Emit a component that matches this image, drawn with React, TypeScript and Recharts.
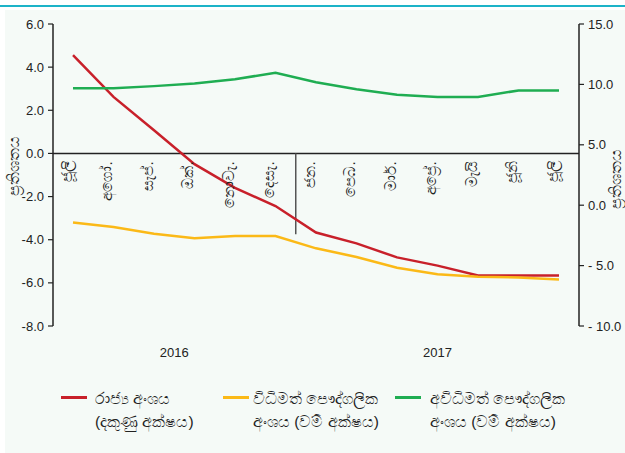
import React from 'react';
import { LineChart, Line, XAxis, YAxis, ReferenceLine } from 'recharts';

// ---- data ----
const months = ['ජූලි', 'අගෝ.', 'සැප්.', 'ඔක්.', 'නොවැ.', 'දෙසැ.', 'ජන.', 'පෙබ.', 'මාර්.', 'අප්‍රේ.', 'මැයි', 'ජූනි', 'ජූලි'];
const monthYears = ['2016', '2016', '2016', '2016', '2016', '2016', '2017', '2017', '2017', '2017', '2017', '2017', '2017'];
// state sector (right axis)
const stateSector = [12.43, 8.97, 6.2, 3.4, 1.43, -0.07, -2.26, -3.16, -4.32, -5.0, -5.82, -5.82, -5.82];
// formal private sector (left axis)
const formalPrivate = [-3.2, -3.41, -3.72, -3.93, -3.83, -3.83, -4.4, -4.8, -5.3, -5.6, -5.72, -5.75, -5.85];
// informal private sector (left axis)
const informalPrivate = [3.02, 3.02, 3.12, 3.24, 3.44, 3.74, 3.3, 2.98, 2.72, 2.62, 2.62, 2.92, 2.92];

const leftTicks = [-8, -6, -4, -2, 0, 2, 4, 6];
const rightTicks = [-10, -5, 0, 5, 10, 15];
const yAxisTitle = 'ප්‍රතිශතය';
const separatorDepth = -3.75;

const series = [
  { key: 'state', line1: 'රාජ්‍ය අංශය', line2: '(දකුණු අක්ෂය)', color: '#c8202a', axis: 'right' },
  { key: 'formal', line1: 'විධිමත් පෞද්ගලික', line2: 'අංශය (වම් අක්ෂය)', color: '#fbb917', axis: 'left' },
  { key: 'informal', line1: 'අවිධිමත් පෞද්ගලික', line2: 'අංශය (වම් අක්ෂය)', color: '#1fad52', axis: 'left' },
];

const data = months.map((m, i) => ({
  idx: i,
  month: m,
  state: stateSector[i],
  formal: formalPrivate[i],
  informal: informalPrivate[i],
}));

const years = Array.from(new Set(monthYears));
const yearCenters = years.map((y) => {
  const idxs = monthYears.map((v, i) => (v === y ? i : -1)).filter((i) => i >= 0);
  return (idxs[0] + idxs[idxs.length - 1]) / 2;
});
const separatorX = monthYears.findIndex((y) => y === years[1]) - 0.5;

// ---- layout ----
const W = 625;
const H = 453;
const PLOT_TOP = 24;
const PLOT_BOTTOM = 326;
const LEFT_W = 53;
const RIGHT_W = 46;
const MAIN_X_H = 1;
const YEAR_X_H = 30;
const LEFT_MIN = leftTicks[0];
const LEFT_MAX = leftTicks[leftTicks.length - 1];
const zeroY = PLOT_TOP + ((PLOT_BOTTOM - PLOT_TOP) * (LEFT_MAX - 0)) / (LEFT_MAX - LEFT_MIN);
const FONT = '"Liberation Sans", Arial, sans-serif';

const MonthTick = (props: any) => {
  const { x, payload } = props;
  const ty = zeroY + 8;
  return (
    <text
      x={x - 1}
      y={ty}
      transform={`rotate(-90 ${x - 1} ${ty})`}
      textAnchor="end"
      fontSize={15}
      fill="#222"
      fontFamily={FONT}
    >
      {months[payload.value]}
    </text>
  );
};

const fmtLeft = (v: number) => v.toFixed(1);
const fmtRight = (v: number) => (v < 0 ? '- ' + Math.abs(v).toFixed(1) : v.toFixed(1));

const legendLayout = [
  { lineX: 61, textX: 95 },
  { lineX: 223, textX: 253 },
  { lineX: 395, textX: 430 },
];

export default function App() {
  return (
    <div style={{ position: 'absolute', left: 0, top: 0, width: W, height: H, background: '#fff', overflow: 'hidden', fontFamily: FONT }}>
      <div style={{ position: 'absolute', left: 0, top: 5, width: W, height: 2, background: '#1db3c8' }} />
      <div style={{ position: 'absolute', left: 5, top: 10, width: W - 5, height: H - 10, background: '#f5faf7' }} />
      <div style={{ position: 'absolute', left: 0, top: 0 }}>
        <LineChart
          width={W}
          height={H}
          data={data}
          margin={{ top: PLOT_TOP, right: 0, left: 0, bottom: H - PLOT_BOTTOM - MAIN_X_H - YEAR_X_H }}
        >
          <XAxis
            dataKey="idx"
            type="number"
            domain={[0, months.length - 1]}
            ticks={data.map((d) => d.idx)}
            interval={0}
            padding={{ left: 20, right: 20 }}
            axisLine={false}
            tickLine={false}
            height={MAIN_X_H}
            tick={<MonthTick />}
          />
          <XAxis
            xAxisId="yr"
            dataKey="idx"
            type="number"
            domain={[0, months.length - 1]}
            ticks={yearCenters}
            interval={0}
            padding={{ left: 20, right: 20 }}
            axisLine={false}
            tickLine={false}
            tickSize={0}
            tickMargin={21}
            height={YEAR_X_H}
            tickFormatter={(v: number) => years[yearCenters.indexOf(v)]}
            tick={{ fontSize: 13, fill: '#222', fontFamily: FONT }}
          />
          <YAxis
            yAxisId="left"
            orientation="left"
            domain={[LEFT_MIN, LEFT_MAX]}
            ticks={leftTicks}
            interval={0}
            width={LEFT_W}
            tickFormatter={fmtLeft}
            tickSize={5}
            tickMargin={4}
            axisLine={{ stroke: '#222', strokeWidth: 1.5 }}
            tickLine={{ stroke: '#222', strokeWidth: 1.2 }}
            tick={{ fontSize: 13, fill: '#222', fontFamily: FONT }}
            label={(p: any) => {
              const vb = p.viewBox;
              const cx = 13;
              const cy = vb.y + vb.height / 2 - 9;
              return (
                <text x={cx} y={cy} transform={`rotate(-90 ${cx} ${cy})`} textAnchor="middle" dominantBaseline="central" fontSize={16} fill="#222">
                  {yAxisTitle}
                </text>
              );
            }}
          />
          <YAxis
            yAxisId="right"
            orientation="right"
            domain={[rightTicks[0], rightTicks[rightTicks.length - 1]]}
            ticks={rightTicks}
            interval={0}
            width={RIGHT_W}
            tickFormatter={fmtRight}
            tickSize={5}
            tickMargin={4}
            axisLine={{ stroke: '#222', strokeWidth: 1.5 }}
            tickLine={{ stroke: '#222', strokeWidth: 1.2 }}
            tick={{ fontSize: 13, fill: '#222', fontFamily: FONT, textAnchor: 'start' }}
            label={(p: any) => {
              const vb = p.viewBox;
              const cx = 615;
              const cy = vb.y + vb.height / 2 + 4;
              return (
                <text x={cx} y={cy} transform={`rotate(-90 ${cx} ${cy})`} textAnchor="middle" dominantBaseline="central" fontSize={16} fill="#222">
                  {yAxisTitle}
                </text>
              );
            }}
          />
          <ReferenceLine yAxisId="left" y={0} stroke="#222" strokeWidth={1.5} />
          <ReferenceLine
            yAxisId="left"
            segment={[{ x: separatorX, y: 0 }, { x: separatorX, y: separatorDepth }]}
            stroke="#555"
            strokeWidth={1.5}
          />
          {series.map((s) => (
            <Line
              key={s.key}
              yAxisId={s.axis}
              dataKey={s.key}
              type="linear"
              stroke={s.color}
              strokeWidth={2.5}
              dot={false}
              activeDot={false}
              isAnimationActive={false}
            />
          ))}
        </LineChart>
      </div>
      {series.map((s, i) => (
        <div key={s.key} style={{ position: 'absolute', left: 0, top: 0 }}>
          <div style={{ position: 'absolute', left: legendLayout[i].lineX, top: 396, width: 26, height: 3, background: s.color }} />
          <div style={{ position: 'absolute', left: legendLayout[i].textX, top: 387, fontSize: 15.5, lineHeight: '23px', color: '#222', whiteSpace: 'nowrap' }}>
            <div>{s.line1}</div>
            <div>{s.line2}</div>
          </div>
        </div>
      ))}
    </div>
  );
}
